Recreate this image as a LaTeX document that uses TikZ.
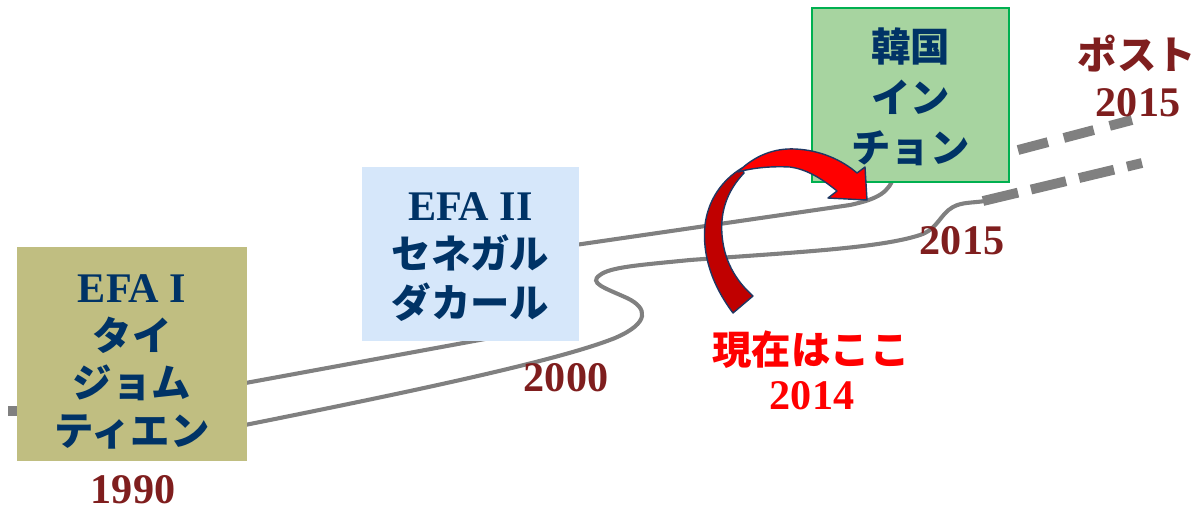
\documentclass[tikz,border=0pt]{standalone}
\usepackage{fontspec}
\setmainfont{Liberation Serif}
\newfontfamily\jp{Noto Sans CJK JP}
\definecolor{olivebox}{RGB}{192,190,129}
\definecolor{bluebox}{RGB}{214,231,250}
\definecolor{greenbox}{RGB}{167,212,160}
\definecolor{greenline}{RGB}{0,176,80}
\definecolor{navytext}{RGB}{0,51,102}
\definecolor{yearred}{RGB}{127,30,30}
\definecolor{roadgray}{RGB}{128,128,128}
\definecolor{arrowdark}{RGB}{192,0,0}
\definecolor{arrowline}{RGB}{31,56,100}
\begin{document}
\begin{tikzpicture}[x=0.025cm,y=-0.025cm,
  road/.style={draw=roadgray,line width=2.9pt,line cap=round},
  dashroad/.style={draw=roadgray,line width=7pt},
  boxshape/.style={inner sep=0pt},
  boxtext/.style={inner sep=0pt,align=center,text=navytext},
  yearlabel/.style={font=\fontsize{30}{32}\selectfont\bfseries,text=yearred,inner sep=0pt},
  redlabel/.style={text=red,inner sep=0pt},
  arrowpart/.style={draw=arrowline,line width=1pt,line join=round}]
\useasboundingbox (0,0) rectangle (1201,509);

% roads
\draw[dashroad] (8,411) -- (17,411);
\draw[road] (240,384) -- (485,339) -- (575,245) -- (850,205)
  .. controls (878,199) and (890,192) .. (894,175);
\draw[road] (240,426) .. controls (420,390) and (560,360) .. (615,338)
  .. controls (650,323) and (648,308) .. (627,298)
  .. controls (605,288) and (588,283) .. (600,275)
  .. controls (610,267) and (640,265) .. (690,260)
  .. controls (800,252) and (880,248) .. (920,235)
  .. controls (938,229) and (940,214) .. (953,207)
  .. controls (962,202) and (972,203) .. (985,201);
\draw[dashroad,dash pattern=on 22pt off 11.7pt] (1018,150) -- (1132,120);
\draw[dashroad,dash pattern=on 25.6pt off 9.5pt] (983,201) -- (1142,163);

% boxes
\node[boxshape,fill=olivebox,minimum width=5.75cm,minimum height=5.35cm] (efa1box) at (132,354) {};
\node[boxshape,fill=bluebox,minimum width=5.425cm,minimum height=4.35cm] (efa2box) at (470.5,254) {};
\node[boxshape,fill=greenbox,draw=greenline,line width=1.4pt,minimum width=4.925cm,minimum height=4.35cm] (koreabox) at (910.5,95) {};

\node[boxtext,font=\fontsize{28}{34}\selectfont] (efa1) at (132,362)
  {{\fontsize{30}{34}\selectfont\bfseries EFA I}\\{\jp\bfseries タイ}\\{\jp\bfseries ジョム}\\{\jp\bfseries ティエン}};
\node[boxtext,font=\fontsize{28}{34.5}\selectfont] (efa2) at (470.5,257)
  {{\fontsize{30}{34}\selectfont\bfseries EFA II}\\{\jp\bfseries セネガル}\\{\jp\bfseries ダカール}};
\node[boxtext,font=\fontsize{28}{36}\selectfont] (korea) at (910.5,97)
  {{\jp\bfseries 韓国}\\{\jp\bfseries イン}\\{\jp\bfseries チョン}};

% year labels
\node[yearlabel] (y1990) at (133,490) {1990};
\node[yearlabel] (y2000) at (566,378) {2000};
\node[yearlabel] (y2015) at (962,241) {2015};
\node[yearlabel,font=\fontsize{28}{30}\selectfont\jp\bfseries] (post) at (1137,54) {ポスト};
\node[yearlabel] (post2015) at (1138,103) {2015};
\node[redlabel,font=\fontsize{28}{30}\selectfont\jp\bfseries] (now) at (811,350) {現在はここ};
\node[redlabel,font=\fontsize{30}{32}\selectfont\bfseries] (y2014) at (812,396) {2014};

% curved arrow
\filldraw[arrowpart,fill=arrowdark] (733,313) .. controls (712,285) and (702,255) .. (705,225)
  .. controls (708,200) and (722,180) .. (742,168) -- (744,173)
  .. controls (728,190) and (720,210) .. (722,235)
  .. controls (724,260) and (735,280) .. (753,296) -- cycle;
\filldraw[arrowpart,fill=red] (738,172) .. controls (755,155) and (775,148) .. (795,149)
  .. controls (820,150) and (842,160) .. (857,173) -- (865,167) -- (867,200) -- (828,198) -- (837,191)
  .. controls (820,177) and (805,169) .. (790,167)
  .. controls (770,166) and (752,168) .. (738,172) -- cycle;
\end{tikzpicture}
\end{document}
